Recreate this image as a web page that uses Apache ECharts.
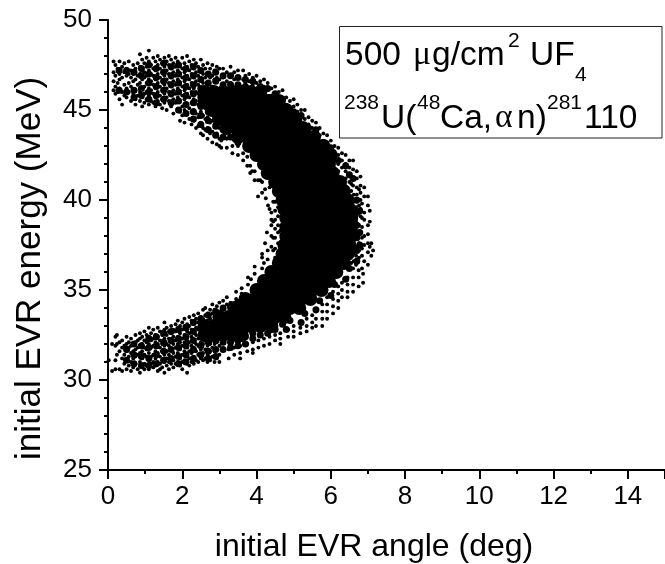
<!DOCTYPE html>
<html><head><meta charset="utf-8">
<style>html,body{margin:0;padding:0;background:#fff}#c{width:665px;height:564px}</style>
<script src="https://cdn.jsdelivr.net/npm/echarts@6/dist/echarts.min.js"></script></head>
<body><div id="c"></div>
<script>
// every row: [angle, energy, energy, ...]
const upperArm = [
[.15,47.7,47.1,46.6,46.1],[.2,47.5,46.9,46.3,45.9],[.26,47.3,46.5,46.0],[.31,47.7,47.0,46.7,46.2,45.6],[.38,47.4,46.8,46.0,45.3],
[.44,47.6,47.1,46.4,45.8],[.5,47.3,46.9,46.2,45.7],[.56,47.7,47.0,46.5,46.0],[.62,47.2,46.8,46.3,45.5],[.68,47.5,47.0,46.6,45.9],
[.74,47.3,46.7,46.1,45.6,45.3],[.8,47.6,46.9,46.4,45.8],[.86,48.1,47.4,47.0,46.5,46.0,45.5],[.92,47.8,47.2,46.7,46.2,45.7,45.2],
[.98,47.6,47.1,46.8,46.3,45.9,45.4],[1.04,47.9,47.4,46.9,46.5,46.0,45.6],[1.1,48.3,47.7,47.2,46.7,46.2,45.8,45.3],[1.16,47.5,47.0,46.6,46.1,45.5],
[1.22,47.9,47.3,46.9,46.4,45.9,45.4],[1.28,47.7,47.2,46.7,46.2,45.7,45.2],[1.34,48.0,47.5,47.0,46.5,46.0,45.5],[1.4,47.8,47.3,46.8,46.3,45.8,45.3],
[1.46,47.6,47.1,46.6,46.1,45.6,45.1],[1.52,47.9,47.4,46.9,46.4,45.9,45.4],[1.58,47.7,47.2,46.7,46.2,45.7,45.0],[1.64,48.0,47.5,47.0,46.5,46.0,45.5],
[1.7,47.8,47.3,46.8,46.3,45.8,45.2],[1.76,47.6,47.1,46.6,46.1,45.6,44.8],[1.82,47.9,47.4,46.9,46.4,45.9,45.4],[1.88,47.7,47.2,46.7,46.2,45.7,45.0],
[1.94,47.5,47.0,46.5,46.0,45.5,44.9,44.4],[2.0,47.9,47.3,46.8,46.3,45.8,45.2,44.7],[2.06,47.6,47.1,46.6,46.1,45.6,45.0,44.3],[2.13,48.0,47.4,46.9,46.4,45.9,45.3,44.8],
[2.19,47.7,47.2,46.7,46.2,45.7,45.1,44.5],[2.25,47.5,47.0,46.5,46.0,45.4,44.9,44.2],[2.31,47.8,47.3,46.8,46.2,45.6,45.0,44.4],[2.37,47.6,47.1,46.6,46.0,45.5,44.8,44.0],
[2.43,47.4,46.9,46.4,45.9,45.3,44.6,44.1],[2.5,47.8,47.2,46.7,46.1,45.5,44.9,44.3,43.7],[2.56,47.5,47.0,46.5,46.0,45.4,44.7,44.0,43.6],[2.62,47.3,46.8,46.3,45.7,45.1,44.5,43.9],
[2.68,47.6,47.0,46.4,45.8,45.2,44.6,44.0,43.4],[2.75,47.3,46.8,46.2,45.6,45.0,44.3,43.7],[2.81,47.5,46.9,46.3,45.7,45.1,44.4,43.8,43.2],[2.87,47.2,46.7,46.1,45.5,44.9,44.2,43.6],
[2.93,47.4,46.8,46.2,45.6,45.0,44.3,43.7,43.1],[3.0,47.3,46.7,46.0,45.3,44.6,44.0,43.4,43.0]
];
const lowerArm = [
[.02,31.1],[.11,32.0,30.5],[.2,32.4,31.9,31.1,30.6],[.24,32.5,32.0,31.4],[.31,32.1,31.6,30.6],[.38,32.2,31.8,31.2,30.5],[.44,31.9,31.4,30.9],
[.5,32.4,32.0,31.6,31.1,30.6],[.56,32.1,31.8,31.3,30.8],[.62,32.3,31.9,31.5,31.0,30.5],[.68,32.0,31.6,31.2,30.7],[.74,32.5,32.1,31.7,31.3,30.9],
[.8,32.2,31.8,31.4,30.6],[.86,32.6,32.3,31.9,31.5,31.0,30.4],[.92,32.4,32.0,31.6,31.2,30.7],[.98,32.7,32.2,31.8,31.4,30.9,30.6],[1.04,32.5,32.1,31.7,31.3,30.8],
[1.1,32.9,32.4,32.0,31.5,31.1,30.6],[1.16,32.6,32.2,31.8,31.3,30.9],[1.22,32.8,32.3,31.9,31.4,31.0,30.7],[1.28,32.5,32.1,31.6,31.2,30.8],[1.34,32.9,32.4,32.0,31.5,31.0,30.5],
[1.4,32.7,32.2,31.8,31.3,30.9,30.6],[1.46,32.5,32.0,31.6,31.1,30.7],[1.52,33.2,32.8,32.3,31.9,31.4,31.0,30.4],[1.58,32.9,32.5,32.0,31.6,31.2,30.8],[1.64,32.7,32.3,31.9,31.4,31.0,30.6],
[1.7,33.0,32.6,32.1,31.7,31.2,30.9],[1.76,32.8,32.4,32.0,31.5,31.1,30.7],[1.82,33.1,32.7,32.2,31.8,31.3,30.9],[1.88,33.3,32.9,32.4,32.0,31.5,31.0],[1.94,33.0,32.6,32.1,31.7,31.2,30.8],
[2.0,33.2,32.8,32.3,31.9,31.4,31.0,30.6],[2.06,33.4,33.0,32.5,32.1,31.6,31.1],[2.13,33.1,32.7,32.2,31.8,31.3,30.9,30.4],[2.19,33.5,33.0,32.6,32.1,31.6,31.2,30.8],[2.25,33.3,32.8,32.4,31.9,31.5,31.0],
[2.31,33.6,33.1,32.7,32.2,31.8,31.3,30.9],[2.37,33.4,32.9,32.5,32.0,31.6,31.1],[2.43,33.7,33.2,32.8,32.3,31.9,31.4,31.0],[2.5,33.5,33.0,32.6,32.1,31.7,31.2],[2.56,33.9,33.4,32.9,32.5,32.0,31.5,31.1],
[2.62,34.0,33.6,33.1,32.6,32.2,31.7,31.2],[2.68,33.7,33.3,32.8,32.3,31.9,31.4,31.0],[2.75,33.9,33.4,33.0,32.5,32.0,31.6,31.1],[2.81,34.2,33.7,33.2,32.7,32.2,31.8,31.3],
[2.87,33.9,33.5,33.0,32.5,32.0,31.6,31.0],[2.93,34.1,33.6,33.1,32.6,32.1,31.7,31.2],[3.0,34.3,33.8,33.3,32.8,32.3,31.9,31.4,31.0]
];
const outerFringe = [
[3.1,47.3,46.8,46.4],[3.2,47.1,46.6],[3.3,47.4,46.9,46.5],[3.4,47.1,46.7],[3.5,47.2,46.8,46.4],[3.64,47.2,46.7],[3.7,46.9,46.5],[3.8,47.0,46.6],[3.9,46.8,46.4],[4.0,46.9,46.5,46.1],
[4.1,46.6,46.2],[4.2,46.7,46.3,45.9],[4.3,46.5,46.1],[4.4,46.2,45.8],[4.5,46.3,45.9,45.5],[4.6,46.0,45.6],[4.7,46.1,45.7,45.3],[4.8,45.7,45.3],[4.9,45.5,45.1],[5.0,45.6,45.2,44.8],
[5.1,45.3,44.9],[5.2,45.0,44.6,44.2],[5.3,45.0,44.5],[5.4,44.6,44.2,43.8],[5.5,44.4,44.0],[5.6,44.3,43.9,43.5],[5.7,44.0,43.6],[5.8,43.7,43.3,42.9],[5.9,43.6,43.2],[6.0,43.3,42.9,42.5],
[6.1,43.0,42.6,42.2],[6.2,42.9,42.5,42.0,41.6],[6.3,42.6,42.2,41.8],[6.4,42.5,42.0,41.6,41.2],[6.5,42.2,41.8,41.4,41.0],[6.6,42.2,41.7,41.2,40.8],[6.7,41.6,41.2,40.7,40.3,39.9],[6.8,41.3,40.8,40.4,40.0,39.5,39.1],
[6.55,40.9,40.5,40.1,39.6,39.2,38.7,38.2,37.8,37.3,36.9,36.5],[6.62,40.3,39.9,39.4,39.0,38.4,38.0,37.5,37.0,36.6],[6.68,39.6,39.1,38.8,38.3,37.9,37.4,36.9,36.4],[6.76,40.6,39.7,38.6,38.1,37.6,37.2,36.8],
[6.84,39.8,39.0,38.5,37.9,37.3,36.9,36.2],
[6.9,40.7,40.2,39.3,38.9,38.0,37.5,36.6],[7.0,40.2,39.7,38.6,38.1,37.6,37.1,36.4],[7.05,39.4,38.8,37.4],[7.14,37.2],[7.09,37.6,36.9],
[6.87,35.9,35.4],[6.75,36.1,35.7,35.2],[6.6,36.2,35.7,35.3,34.9],[6.45,35.7,35.3,34.9,34.6],[6.3,35.4,35.0,34.6],[6.2,35.2,34.8,34.4,34.0],[6.06,34.9,34.5,34.1,33.7],
[5.9,34.6,34.2,33.8,33.4],[5.77,34.2,33.8,33.4,33.0],[5.6,33.8,33.4,33.0],[5.5,33.6,33.2,32.9],[5.35,33.4,33.0,32.7],[5.18,33.2,32.9,32.6],[5.0,33.0,32.7,32.4],[4.85,32.8,32.4],[4.64,32.6,32.3,32.0],
[4.5,32.5,32.2],[4.35,32.4,32.0],[4.2,32.3,31.9],[4.05,32.2,31.8],[3.9,32.1,31.7,31.5],[3.75,32.0,31.6],[3.56,31.9,31.5,31.2],[3.4,31.8,31.4],[3.25,31.7,31.2]
];
const innerFringe = [
[3.05,43.3,42.9],[3.2,43.4,42.9],[3.35,43.0,42.6],[3.5,43.0,42.5],[3.64,42.6,42.2],[3.75,42.4,41.9],[3.83,41.9,41.5],[3.88,41.6],[3.95,41.6,41.1],[4.04,41.1,40.2],[4.1,41.1],[4.15,41.0,40.4],[4.23,40.6],[4.25,40.1],[4.31,39.7],[4.35,40.7,39.5],[4.4,38.9,39.3],[4.45,39.9,38.8,37.9,37.2],
[4.5,40.4,39.9,39.4,38.9,38.4,37.9,37.3,36.8],[4.58,40.1,39.6,39.1,38.6,38.2,37.6,37.1,36.6],[4.64,39.4,38.3],
[4.28,38.2],[4.4,38.6,38.0,37.4],[4.23,37.6],[4.3,37.2,36.7],[4.15,37.0,36.8,36.2],[4.2,36.5],[3.95,36.3,35.9],[3.77,35.7,35.3],[3.85,35.6],[3.6,35.1,34.8],[3.45,34.9,34.5],[3.2,34.6,34.2],[3.3,34.3],[3.1,34.4,33.9]
];
// clumps of overlapping dots along the arms: [angle, energy, energy, ...]
const armClumps = [
[.3,47.2,46.1],[.5,47.2,46.0],[.7,47.1,46.1,45.7],[.9,47.3,46.9,46.2,45.8],[1.1,47.5,47.0,46.5,46.0,45.6],[1.3,47.3,46.8,46.3,45.8,45.4],[1.5,47.6,47.1,46.6,46.1,45.6],[1.7,47.4,46.9,46.4,45.9,45.4],
[1.9,47.5,47.0,46.5,46.0,45.5,45.0],[2.1,47.3,46.8,46.3,45.8,45.3,44.8],[2.3,47.4,46.9,46.4,45.9,45.4,44.9,44.5],[2.5,47.2,46.7,46.2,45.7,45.2,44.7,44.2],[2.7,47.0,46.5,44.9,44.4,43.9],[2.9,47.1,46.6,44.6,44.1,43.6],
[3.1,46.9,46.4,43.9,43.5],[3.3,46.9,46.4,43.5],[3.5,46.8,46.4,43.2],[3.7,46.7,46.3],[3.9,46.6,46.1],[4.1,46.3,45.9],[4.3,46.2,45.7],[4.5,45.9,45.5],[4.7,45.6,45.2],[5.0,44.9],[5.2,44.7],[5.4,44.0],[5.6,43.9],[5.8,43.2],[6.0,42.9],[6.2,42.2],[6.4,41.9],[6.5,41.4],[6.6,41.2],
[6.7,40.0,39.3,38.6,37.9,37.2,36.6],[6.78,39.4,38.2,37.5],
[.5,31.7,31.1],[.7,32.0,31.4,30.9],[.9,31.9,31.3,30.8],[1.1,32.3,31.8,31.2,30.8],[1.3,32.4,31.9,31.4,30.9],[1.5,32.6,32.1,31.6,31.1],[1.7,32.7,32.2,31.7,31.2],[1.9,32.8,32.3,31.8,31.3,30.9],[2.1,32.9,32.4,31.9,31.4,31.0],
[2.3,33.2,32.7,32.2,31.7,31.2],[2.5,33.4,32.9,32.4,31.9,31.4],[2.7,33.6,32.1,31.6,31.2],[2.9,33.8,32.2,31.7,31.3],[3.1,34.0,32.1,31.7],[3.3,34.1,32.1,31.8],[3.5,34.3,32.2,31.9],[3.7,32.4,32.0],[3.9,32.6,32.3],[4.1,32.8,32.5],[4.3,33.0,32.6],[4.5,32.8],[4.7,33.1],[4.8,32.8],[4.9,33.3],[5.2,33.2],[5.3,33.7],[5.6,33.9],[5.7,34.4],[6.0,34.7],[6.1,35.3],[6.4,35.6],[6.5,36.2]
];
// saturated part of the cloud, where the dots merge into solid black: rows are [energy, angle, angle, ...]
const solidCore = [
[46,2.6,2.85,3.1,3.35,3.6,3.85,4.1],[45.5,2.6,2.85,3.1,3.35,3.6,3.85,4.1,4.35,4.6],[45,2.8,3.05,3.3,3.55,3.8,4.05,4.3,4.55,4.8],[44.5,3,3.25,3.5,3.75,4,4.25,4.5,4.75,5.05],
[44,3.2,3.45,3.7,3.95,4.2,4.45,4.7,4.95,5.25],[43.5,3.5,3.75,4,4.25,4.5,4.75,5,5.3,5.55],[43,3.8,4.05,4.3,4.55,4.8,5.05,5.3,5.55,5.8],[42.5,4,4.25,4.5,4.75,5,5.25,5.5,5.75,6],
[42,4.2,4.45,4.7,4.95,5.2,5.45,5.7,5.95],[41.5,4.3,4.55,4.8,5.05,5.3,5.55,5.8,6.05],[41,4.5,4.75,5,5.25,5.5,5.75,6,6.25],[40.5,4.6,4.85,5.1,5.35,5.6,5.85,6.1,6.35],
[40,4.7,4.95,5.2,5.45,5.7,5.95,6.2,6.45],[39.5,4.75,5,5.25,5.5,5.75,6,6.25,6.5],[39,4.8,5.05,5.3,5.55,5.8,6.05,6.3,6.55],[38.5,4.8,5.05,5.3,5.55,5.8,6.05,6.3,6.55],
[38,4.8,5.05,5.3,5.55,5.8,6.05,6.3,6.55],[37.5,4.75,5,5.25,5.5,5.75,6,6.25,6.5],[37,4.7,4.95,5.2,5.45,5.7,5.95,6.2,6.45],[36.5,4.6,4.85,5.1,5.35,5.6,5.85,6.1,6.35],
[36,4.4,4.65,4.9,5.15,5.4,5.65,5.9,6.15],[35.5,4.2,4.45,4.7,4.95,5.2,5.45,5.7,5.95],[35,4,4.25,4.5,4.75,5,5.25,5.5,5.75],[34.5,3.7,3.95,4.2,4.45,4.7,4.95,5.2,5.45],
[34,3.4,3.65,3.9,4.15,4.4,4.65,4.9,5.15],[33.5,3,3.25,3.5,3.75,4,4.25,4.5,4.75],[33,2.6,2.85,3.1,3.35,3.6,3.85,4.1,4.4],[32.5,2.6,2.85,3.1,3.35,3.6]
];
const xTicks = {min:0,max:15,interval:2};
const yTicks = {min:25,max:50,interval:5};
const xTitle = 'initial EVR angle (deg)';
const yTitle = 'initial EVR energy (MeV)';

const angleRows = r => r.flatMap(([a,...es]) => es.map(e => [a,e]));
const energyRows = r => r.flatMap(([e,...as]) => as.map(a => [a,e]));
const cloud = [...angleRows(upperArm),...angleRows(lowerArm),...angleRows(outerFringe),...angleRows(innerFringe)];

const SANS='"Liberation Sans",Arial,sans-serif', GREEK='"Liberation Serif",serif';
const t=(text,x,base,size,font)=>({type:'text',x,y:base-0.346*size,z:10,style:{text,fontSize:size,fontFamily:font||SANS,fill:'#000',verticalAlign:'middle',align:'left'}});
const axisCommon={axisLine:{onZero:false,lineStyle:{color:'#000',width:2}},axisTick:{length:9,lineStyle:{color:'#000',width:2}},
 minorTick:{show:true,length:4,lineStyle:{color:'#000',width:2}},splitLine:{show:false},minorSplitLine:{show:false},
 nameLocation:'middle',nameTextStyle:{fontSize:32,fontFamily:SANS,color:'#000'}};
const dots=(name,data,size)=>({type:'scatter',name,data,symbol:'circle',symbolSize:size,itemStyle:{color:'#000',opacity:1},silent:true,large:false});
const chart=echarts.init(document.getElementById('c'),null,{renderer:'canvas'});
chart.setOption({animation:false,backgroundColor:'#fff',
 grid:{left:108,top:20,width:557,height:450,containLabel:false,outerBoundsMode:'none'},
 xAxis:{type:'value',...xTicks,...axisCommon,minorTick:{...axisCommon.minorTick,splitNumber:2},name:xTitle,nameGap:61,
  nameTextStyle:{...axisCommon.nameTextStyle,padding:[0,25,0,0]},
  axisLabel:{margin:14,fontSize:26,fontFamily:SANS,color:'#000',formatter:v=>v>14?'':String(v)}},
 yAxis:{type:'value',...yTicks,...axisCommon,minorTick:{...axisCommon.minorTick,splitNumber:5},name:yTitle,nameGap:60,
  nameTextStyle:{...axisCommon.nameTextStyle,fontSize:35,padding:[0,47,0,0]},
  axisLabel:{margin:16,fontSize:26,fontFamily:SANS,color:'#000'}},
 series:[
  dots('core',energyRows(solidCore),14),
  dots('clumps',angleRows(armClumps),7),
  dots('EVR',cloud,3.9)
 ],
 graphic:[
  {type:'rect',shape:{x:339.5,y:26.5,width:322.5,height:111.5},z:9,style:{fill:'#fff',stroke:'#222',lineWidth:1}},
  t('500',345,67,33.5),t('μ',413,67,33.5,GREEK),t('g/cm',432,67,33.5),t('2',508,48,21),t('UF',530,67,33.5),t('4',575,82,21),
  t('238',344,110,21),t('U(',381,130,33.5),t('48',417,110,21),t('Ca,',440,130,33.5),t('α',495,130,33.5,GREEK),t('n)',517,130,33.5),t('281',547,110,21),t('110',584,130,33.5)
 ]});
</script></body></html>
